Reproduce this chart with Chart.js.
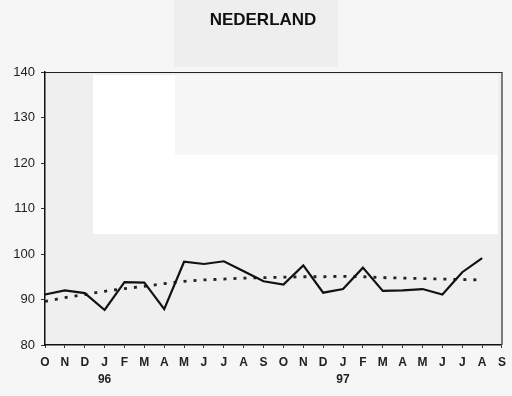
<!DOCTYPE html>
<html>
<head>
<meta charset="utf-8">
<script src="https://cdn.jsdelivr.net/npm/chart.js@4/dist/chart.umd.min.js"></script>
<style>
html,body{margin:0;padding:0;background:#f4f4f4;}
#wrap{width:512px;height:396px;position:relative;}
</style>
</head>
<body>
<div id="wrap"><canvas id="c" width="512" height="396"></canvas></div>
<script>
const months = ['O','N','D',['J','96'],'F','M','A','M','J','J','A','S','O','N','D',['J','97'],'F','M','A','M','J','J','A','S'];
const actual = [91.1,92.0,91.4,87.7,93.8,93.7,87.9,98.3,97.8,98.4,96.2,94.0,93.3,97.5,91.5,92.3,97.0,91.9,92.0,92.3,91.1,96.0,99.1,null];
const trend = [89.6,90.4,91.1,91.8,92.4,92.9,93.5,94.0,94.3,94.5,94.7,94.8,94.9,95.0,95.0,95.1,95.0,94.8,94.7,94.6,94.5,94.4,94.3,null];
const yTicks = [80,90,100,110,120,130,140];
const titleText = 'NEDERLAND';

const bgPlugin = {
  id:'bg',
  beforeDraw(chart){
    const {ctx, chartArea:a, width, height} = chart;
    ctx.save();
    ctx.fillStyle='#f6f6f6';
    ctx.fillRect(0,0,width,height);
    ctx.fillStyle='#eeeeee';
    ctx.fillRect(174,0,164,67);
    ctx.fillStyle='#efefef';
    ctx.fillRect(a.left,a.top,a.right-a.left,a.bottom-a.top);
    ctx.fillStyle='#f7f7f7';
    ctx.fillRect(175,a.top+3,a.right-175-4,155-a.top-3);
    ctx.fillStyle='#ffffff';
    ctx.fillRect(93,a.top+3,82,155-a.top-3);
    ctx.fillRect(93,155,a.right-93-4,79);
    ctx.fillStyle='#111';
    ctx.font='bold 17px "Liberation Sans", Arial, sans-serif';
    ctx.textAlign='center';
    ctx.textBaseline='middle';
    ctx.fillText(titleText, 263, 20);
    ctx.restore();
  },
  afterDatasetsDraw(chart){
    const {ctx, chartArea:a} = chart;
    ctx.save();
    ctx.strokeStyle='#222';
    ctx.lineWidth=1;
    ctx.beginPath();
    ctx.moveTo(a.left,a.top+0.5);
    ctx.lineTo(a.right+0.5,a.top+0.5);
    ctx.stroke();
    ctx.strokeStyle='#555';
    ctx.lineWidth=1.5;
    ctx.beginPath();
    ctx.moveTo(a.right,a.top);
    ctx.lineTo(a.right,a.bottom);
    ctx.stroke();
    ctx.restore();
  }
};

new Chart(document.getElementById('c'), {
  type:'line',
  data:{
    labels:months,
    datasets:[
      {data:actual, borderColor:'#111', borderWidth:2.2, pointRadius:0, tension:0, fill:false},
      {data:trend, borderColor:'#222', borderWidth:2.8, borderDash:[3,7], borderCapStyle:'butt', pointRadius:0, tension:0, fill:false}
    ]
  },
  plugins:[bgPlugin],
  options:{
    responsive:false,
    animation:false,
    events:[],
    layout:{padding:{left:6,right:7,top:72,bottom:0}},
    plugins:{
      legend:{display:false},
      tooltip:{enabled:false},
      title:{display:false}
    },
    scales:{
      x:{
        offset:false,
        grid:{drawOnChartArea:false, drawTicks:true, tickLength:3, color:'#333', offset:false},
        border:{display:true, color:'#111', width:1.5},
        ticks:{color:'#222', font:{family:'Liberation Sans, Arial', size:12, weight:'bold', lineHeight:1.4}, maxRotation:0, autoSkip:false, padding:6},
        afterFit(s){ s.height = 51; }
      },
      y:{
        min:80, max:140,
        afterBuildTicks(s){ s.ticks = yTicks.map(v=>({value:v})); },
        grid:{drawOnChartArea:false, drawTicks:true, tickLength:4, color:'#333'},
        border:{display:true, color:'#111', width:1.5},
        ticks:{color:'#222', font:{family:'Liberation Sans, Arial', size:13}, padding:6},
        afterFit(s){ s.width = 39; }
      }
    }
  }
});
</script>
</body>
</html>
